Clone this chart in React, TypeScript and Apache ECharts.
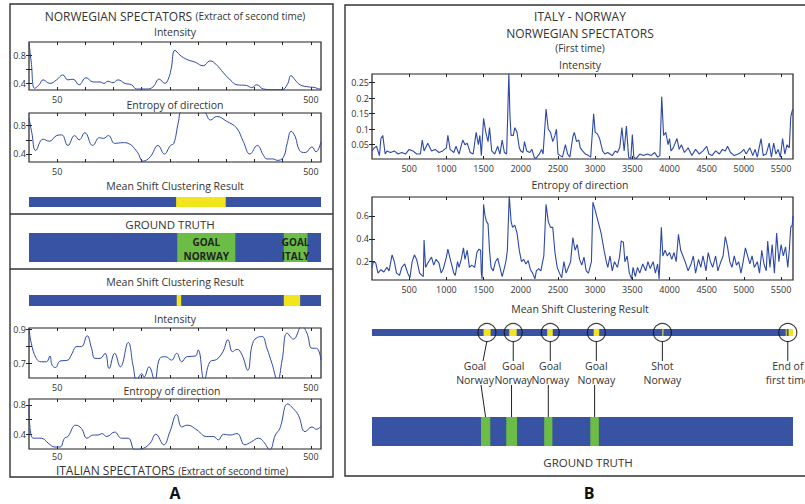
import React, { useEffect, useRef } from "react";
import * as echarts from "echarts";

// ---------- DATA ----------
// Panel A (x in frames 0..518)
const normIntensity = [[0,0.98],[4,0.7],[10,0.33],[18,0.38],[25,0.45],[37,0.40],[49,0.45],[60,0.52],[69,0.45],[78,0.46],[89,0.38],[101,0.48],[114,0.42],[126,0.42],[133,0.40],[140,0.43],[149,0.41],[158,0.45],[170,0.40],[182,0.38],[191,0.32],[209,0.32],[220,0.35],[231,0.46],[241,0.40],[247,0.46],[252,0.60],[259,0.87],[268,0.80],[280,0.74],[295,0.70],[309,0.65],[321,0.72],[333,0.66],[345,0.55],[357,0.45],[369,0.38],[386,0.37],[395,0.34],[404,0.38],[416,0.32],[434,0.31],[449,0.31],[458,0.38],[465,0.51],[472,0.45],[481,0.38],[496,0.35],[508,0.34],[514,0.32],[518,0.34]];
const normEntropy = [[0,0.91],[5,0.7],[12,0.45],[25,0.61],[36,0.58],[49,0.66],[58,0.67],[69,0.52],[81,0.66],[89,0.60],[99,0.70],[113,0.52],[125,0.63],[132,0.62],[141,0.66],[152,0.55],[167,0.56],[176,0.55],[191,0.44],[203,0.30],[215,0.36],[229,0.52],[240,0.40],[251,0.52],[257,0.55],[265,0.85],[271,1.0],[286,1.0],[309,1.0],[322,0.88],[333,0.93],[351,0.86],[368,0.77],[380,0.58],[392,0.40],[405,0.52],[416,0.38],[422,0.33],[434,0.33],[440,0.31],[451,0.35],[458,0.55],[465,0.72],[472,0.65],[480,0.45],[490,0.42],[502,0.50],[509,0.43],[518,0.57]];
const italIntensity = [[0,0.91],[4,0.82],[13,0.73],[22,0.71],[31,0.71],[37,0.744],[41,0.69],[47,0.676],[55,0.714],[69,0.72],[75,0.75],[85,0.80],[93,0.80],[103,0.864],[111,0.79],[117,0.73],[126,0.73],[135,0.76],[142,0.67],[152,0.76],[162,0.68],[176,0.824],[185,0.68],[191,0.6],[200,0.64],[204,0.62],[213,0.68],[223,0.6],[232,0.73],[242,0.74],[253,0.72],[262,0.76],[271,0.71],[280,0.74],[295,0.744],[300,0.78],[311,0.6],[321,0.71],[333,0.724],[344,0.77],[353,0.84],[361,0.77],[369,0.784],[378,0.75],[388,0.66],[398,0.83],[413,0.86],[422,0.79],[431,0.70],[441,0.6],[449,0.72],[458,0.88],[469,0.844],[484,0.92],[493,0.88],[502,0.79],[510,0.79],[518,0.72]];
const italEntropy = [[0,0.80],[7,0.347],[19,0.347],[25,0.34],[34,0.28],[46,0.227],[55,0.227],[63,0.347],[69,0.37],[83,0.524],[93,0.48],[103,0.347],[114,0.39],[123,0.39],[129,0.41],[138,0.37],[152,0.43],[164,0.347],[176,0.347],[188,0.19],[203,0.21],[215,0.28],[225,0.40],[239,0.258],[250,0.436],[262,0.667],[271,0.50],[281,0.524],[298,0.458],[315,0.37],[327,0.37],[336,0.324],[345,0.40],[357,0.39],[369,0.41],[383,0.258],[395,0.30],[407,0.347],[416,0.30],[427,0.19],[437,0.39],[445,0.48],[459,0.813],[469,0.747],[478,0.658],[490,0.436],[502,0.50],[510,0.467],[518,0.51]];

// segments: [start, end, colourCode] (0 blue, 1 yellow, 2 green)
const normMeanShift = [[0,518,0],[261,349,1]];
const groundTruthA = [[0,518,0],[263,366,2],[452,494,2]];
const italMeanShift = [[0,518,0],[262,270,1],[452,481,1]];

// Panel B (x in frames 0..5660)
const bIntensity = [[0,0.03],[30,0.04],[60,0.045],[100,0.015],[120,0.07],[145,0.08],[177,0.02],[200,0.03],[250,0.025],[300,0.03],[350,0.02],[400,0.025],[450,0.02],[500,0.035],[550,0.03],[600,0.02],[650,0.02],[676,0.065],[700,0.03],[750,0.055],[800,0.03],[850,0.035],[900,0.025],[950,0.03],[1000,0.04],[1020,0.08],[1050,0.035],[1100,0.025],[1130,0.045],[1170,0.02],[1220,0.065],[1250,0.05],[1280,0.055],[1320,0.025],[1360,0.02],[1400,0.09],[1430,0.05],[1450,0.08],[1470,0.015],[1500,0.135],[1530,0.09],[1560,0.06],[1580,0.105],[1610,0.03],[1650,0.02],[1690,0.045],[1720,0.02],[1750,0.065],[1780,0.025],[1810,0.02],[1840,0.28],[1855,0.14],[1870,0.08],[1900,0.08],[1920,0.105],[1950,0.09],[1980,0.04],[2000,0.03],[2030,0.025],[2050,0.06],[2080,0.03],[2120,0.025],[2150,0.035],[2180,0.01],[2200,0.005],[2250,0.02],[2280,0.035],[2300,0.02],[2340,0.165],[2370,0.10],[2400,0.09],[2430,0.06],[2460,0.08],[2480,0.10],[2500,0.02],[2530,0.015],[2560,0.01],[2600,0.05],[2630,0.02],[2660,0.01],[2700,0.075],[2720,0.09],[2750,0.06],[2780,0.065],[2800,0.04],[2830,0.03],[2870,0.02],[2910,0.015],[2940,0.01],[2980,0.15],[3000,0.09],[3030,0.085],[3060,0.07],[3100,0.03],[3130,0.02],[3170,0.025],[3200,0.02],[3230,0.015],[3270,0.03],[3300,0.025],[3330,0.04],[3360,0.105],[3390,0.03],[3420,0.11],[3450,0.01],[3480,0.005],[3500,0.083],[3520,0.01],[3550,0.005],[3600,0.02],[3650,0.015],[3700,0.02],[3750,0.015],[3800,0.025],[3840,0.01],[3870,0.015],[3895,0.205],[3920,0.08],[3950,0.09],[3980,0.05],[4000,0.07],[4020,0.03],[4050,0.04],[4100,0.07],[4130,0.035],[4160,0.05],[4200,0.025],[4250,0.04],[4300,0.015],[4350,0.035],[4400,0.02],[4450,0.03],[4500,0.045],[4530,0.02],[4570,0.015],[4620,0.03],[4670,0.02],[4710,0.035],[4750,0.03],[4780,0.045],[4820,0.025],[4870,0.015],[4920,0.02],[4960,0.025],[5000,0.035],[5030,0.02],[5080,0.04],[5120,0.015],[5150,0.035],[5180,0.01],[5230,0.07],[5260,0.015],[5300,0.02],[5340,0.055],[5370,0.01],[5400,0.055],[5430,0.02],[5460,0.035],[5490,0.01],[5520,0.07],[5550,0.02],[5580,0.05],[5610,0.04],[5630,0.14],[5650,0.16],[5660,0.165]];
const bEntropy = [[0,0.15],[20,0.2],[50,0.19],[80,0.1],[120,0.13],[160,0.11],[200,0.15],[230,0.12],[270,0.26],[300,0.2],[330,0.1],[370,0.08],[400,0.15],[440,0.18],[480,0.1],[510,0.06],[540,0.2],[570,0.26],[600,0.22],[640,0.1],[670,0.08],[690,0.07],[700,0.39],[720,0.15],[760,0.2],[800,0.24],[830,0.17],[860,0.22],[900,0.19],[930,0.1],[960,0.14],[1000,0.24],[1020,0.31],[1060,0.2],[1100,0.1],[1120,0.08],[1150,0.2],[1170,0.15],[1200,0.22],[1230,0.32],[1250,0.22],[1280,0.3],[1310,0.15],[1340,0.17],[1380,0.15],[1410,0.28],[1440,0.31],[1460,0.3],[1470,0.1],[1480,0.05],[1500,0.7],[1520,0.6],[1540,0.55],[1560,0.53],[1580,0.3],[1600,0.15],[1630,0.12],[1660,0.2],[1690,0.23],[1720,0.15],[1750,0.07],[1770,0.12],[1800,0.2],[1820,0.3],[1845,0.78],[1870,0.55],[1890,0.5],[1920,0.52],[1950,0.45],[1980,0.3],[2010,0.2],[2040,0.22],[2070,0.18],[2100,0.21],[2130,0.13],[2160,0.1],[2190,0.05],[2210,0.12],[2240,0.14],[2270,0.12],[2310,0.25],[2340,0.7],[2370,0.55],[2400,0.5],[2430,0.5],[2460,0.28],[2490,0.15],[2520,0.1],[2550,0.06],[2580,0.2],[2610,0.1],[2640,0.15],[2670,0.2],[2700,0.41],[2730,0.3],[2760,0.35],[2790,0.22],[2820,0.17],[2850,0.24],[2880,0.12],[2910,0.1],[2950,0.2],[2970,0.72],[3000,0.65],[3040,0.55],[3080,0.45],[3120,0.3],[3150,0.2],[3170,0.15],[3200,0.25],[3230,0.12],[3260,0.2],[3300,0.15],[3330,0.25],[3350,0.38],[3380,0.37],[3400,0.2],[3430,0.25],[3460,0.1],[3490,0.05],[3510,0.15],[3540,0.07],[3570,0.15],[3600,0.1],[3640,0.18],[3680,0.12],[3710,0.2],[3740,0.14],[3780,0.2],[3810,0.1],[3840,0.18],[3860,0.05],[3890,0.5],[3910,0.25],[3940,0.3],[3970,0.25],[4000,0.28],[4030,0.22],[4060,0.28],[4090,0.2],[4120,0.44],[4150,0.3],[4180,0.25],[4210,0.2],[4250,0.12],[4290,0.18],[4320,0.25],[4350,0.1],[4390,0.22],[4420,0.15],[4450,0.25],[4490,0.12],[4520,0.28],[4550,0.2],[4580,0.15],[4620,0.25],[4650,0.12],[4690,0.2],[4720,0.25],[4750,0.42],[4780,0.33],[4810,0.2],[4840,0.15],[4870,0.25],[4900,0.17],[4930,0.2],[4960,0.1],[4990,0.2],[5020,0.32],[5050,0.25],[5080,0.18],[5110,0.25],[5140,0.15],[5180,0.2],[5210,0.1],[5240,0.3],[5270,0.18],[5300,0.12],[5320,0.38],[5350,0.15],[5380,0.35],[5410,0.1],[5440,0.45],[5470,0.2],[5500,0.35],[5530,0.25],[5560,0.33],[5590,0.15],[5610,0.3],[5630,0.5],[5650,0.52],[5660,0.6]];
const bMeanShift = [[0,5660,0],[1500,1595,1],[1845,1945,1],[2355,2430,1],[2980,3055,1],[3903,3918,1],[5562,5570,1],[5600,5660,1]];
const bGroundTruth = [[0,5660,0],[1465,1590,2],[1805,1950,2],[2315,2425,2],[2935,3050,2]];

// annotated events
const eventX = [1545, 1899, 2397, 3016, 3904, 5590];
const eventLabelX = [1385, 1899, 2397, 3016, 3904, 5590];
const eventLabels = ["Goal\nNorway", "Goal\nNorway", "Goal\nNorway", "Goal\nNorway", "Shot\nNorway", "End of\nfirst time"];
const goalTruthX = [1527, 1876, 2370, 2993];

// ticks
const aXTicks = [50, 100, 150, 200, 250, 300, 350, 400, 450, 500];
const aXLabels = [50, 500];
const bXTicks = [500, 1000, 1500, 2000, 2500, 3000, 3500, 4000, 4500, 5000, 5500];

// ---------- STYLE ----------
const FONT = "'Open Sans', sans-serif";
const LINE = "#2d48a6";
const SEG = ["#3953a4", "#f2e51d", "#6cbd45"];
const TXT = "#333";

const A_L = 29, A_W = 292, A_MAX = 518;
const B_L = 372, B_W = 421, B_MAX = 5660;
const ax = (u: number) => A_L + (u / A_MAX) * A_W;
const bx = (u: number) => B_L + (u / B_MAX) * B_W;

type PlotDef = { left: number; top: number; width: number; height: number; xMax: number; yMin: number; yMax: number; xTicks: number[]; xLabels: number[]; yTicks: number[]; yLabels: number[]; data: number[][]; smooth: boolean; xMargin: number };

const plots: PlotDef[] = [
  { left: A_L, top: 42, width: A_W, height: 48, xMax: A_MAX, yMin: 0.306, yMax: 0.988, xTicks: aXTicks, xLabels: aXLabels, yTicks: [0.4, 0.6, 0.8], yLabels: [0.4, 0.8], data: normIntensity, smooth: true, xMargin: 4 },
  { left: A_L, top: 113, width: A_W, height: 49, xMax: A_MAX, yMin: 0.287, yMax: 0.979, xTicks: aXTicks, xLabels: aXLabels, yTicks: [0.4, 0.6, 0.8], yLabels: [0.4, 0.8], data: normEntropy, smooth: true, xMargin: 4 },
  { left: A_L, top: 328, width: A_W, height: 50, xMax: A_MAX, yMin: 0.614, yMax: 0.91, xTicks: aXTicks, xLabels: aXLabels, yTicks: [0.7, 0.8, 0.9], yLabels: [0.7, 0.9], data: italIntensity, smooth: true, xMargin: 4 },
  { left: A_L, top: 399, width: A_W, height: 50, xMax: A_MAX, yMin: 0.2, yMax: 0.88, xTicks: aXTicks, xLabels: aXLabels, yTicks: [0.4, 0.6, 0.8], yLabels: [0.4, 0.8], data: italEntropy, smooth: true, xMargin: 2 },
  { left: B_L, top: 74, width: B_W, height: 85, xMax: B_MAX, yMin: 0.004, yMax: 0.278, xTicks: bXTicks, xLabels: bXTicks, yTicks: [0.05, 0.1, 0.15, 0.2, 0.25], yLabels: [0.05, 0.1, 0.15, 0.2, 0.25], data: bIntensity, smooth: false, xMargin: 4 },
  { left: B_L, top: 197, width: B_W, height: 83, xMax: B_MAX, yMin: 0.04, yMax: 0.765, xTicks: bXTicks, xLabels: bXTicks, yTicks: [0.2, 0.4, 0.6], yLabels: [0.2, 0.4, 0.6], data: bEntropy, smooth: false, xMargin: 4 },
];

type BarDef = { left: number; top: number; width: number; height: number; xMax: number; data: number[][] };
const bars: BarDef[] = [
  { left: A_L, top: 197, width: A_W, height: 10, xMax: A_MAX, data: normMeanShift },
  { left: A_L, top: 233, width: A_W, height: 29, xMax: A_MAX, data: groundTruthA },
  { left: A_L, top: 295, width: A_W, height: 11, xMax: A_MAX, data: italMeanShift },
  { left: B_L, top: 329, width: B_W, height: 7, xMax: B_MAX, data: bMeanShift },
  { left: B_L, top: 417, width: B_W, height: 29, xMax: B_MAX, data: bGroundTruth },
];

function buildOption() {
  const grid: any[] = [];
  const xAxis: any[] = [];
  const yAxis: any[] = [];
  const series: any[] = [];
  const tick = { inside: true, length: 3, lineStyle: { color: "#222", width: 1 } };
  const lbl = { fontSize: 9, lineHeight: 10, color: TXT, fontFamily: FONT, formatter: (v: number) => String(v) };

  plots.forEach((p, i) => {
    grid.push({ left: p.left, top: p.top, width: p.width, height: p.height, show: true, borderColor: "#222", borderWidth: 1.2, backgroundColor: "#fff" });
    xAxis.push({ gridIndex: i, type: "value", min: 0, max: p.xMax, position: "bottom", axisLine: { show: false }, splitLine: { show: false }, axisTick: { ...tick, customValues: p.xTicks }, axisLabel: { ...lbl, margin: p.xMargin, customValues: p.xLabels } });
    xAxis.push({ gridIndex: i, type: "value", min: 0, max: p.xMax, position: "top", axisLine: { show: false }, splitLine: { show: false }, axisTick: { ...tick, customValues: p.xTicks }, axisLabel: { show: false } });
    yAxis.push({ gridIndex: i, type: "value", min: p.yMin, max: p.yMax, position: "left", axisLine: { show: false }, splitLine: { show: false }, axisTick: { ...tick, customValues: p.yTicks }, axisLabel: { ...lbl, margin: 3, customValues: p.yLabels } });
    yAxis.push({ gridIndex: i, type: "value", min: p.yMin, max: p.yMax, position: "right", axisLine: { show: false }, splitLine: { show: false }, axisTick: { ...tick, customValues: p.yTicks }, axisLabel: { show: false } });
    series.push({ type: "line", xAxisIndex: 2 * i, yAxisIndex: 2 * i, data: p.data, showSymbol: false, smooth: p.smooth ? 0.45 : false, silent: true, lineStyle: { color: LINE, width: p.smooth ? 1 : 1.1 }, z: 3 });
  });

  bars.forEach((b, j) => {
    const gi = plots.length + j;
    const ai = 2 * plots.length + j;
    grid.push({ left: b.left, top: b.top, width: b.width, height: b.height, show: false });
    xAxis.push({ gridIndex: gi, type: "value", min: 0, max: b.xMax, show: false });
    yAxis.push({ gridIndex: gi, type: "value", min: 0, max: 1, show: false });
    series.push({
      type: "custom", xAxisIndex: ai, yAxisIndex: ai, data: b.data, silent: true, clip: false,
      encode: { x: [0, 1] },
      renderItem: (_params: any, api: any) => {
        const p0 = api.coord([api.value(0), 0]);
        const p1 = api.coord([api.value(1), 1]);
        return { type: "rect", shape: { x: p0[0], y: p1[1], width: Math.max(1, p1[0] - p0[0]), height: p0[1] - p1[1] }, style: { fill: SEG[api.value(2)] } };
      },
    });
  });

  // circles around detected events (B mean-shift bar)
  const bMsAxis = 2 * plots.length + 3;
  series.push({ type: "scatter", xAxisIndex: bMsAxis, yAxisIndex: bMsAxis, data: eventX.map((u) => [u, 0.5]), symbol: "circle", symbolSize: 18, silent: true, itemStyle: { color: "rgba(0,0,0,0)", borderColor: "#111", borderWidth: 1.2 }, z: 5 });

  const t = (text: string, x: number, y: number, size: number, extra: any = {}) => ({
    type: "text", x, y, silent: true, z: 100,
    style: { text, fill: TXT, font: `${extra.weight || "normal"} ${size}px ${FONT}`, textAlign: "center", textVerticalAlign: "middle", lineHeight: extra.lineHeight, ...extra.style },
  });

  const richTitle = { a: { fontSize: 12, lineHeight: 12, fontFamily: FONT, fill: TXT, color: TXT }, b: { fontSize: 10, lineHeight: 12, fontFamily: FONT, fill: TXT, color: TXT } };

  const graphic: any[] = [
    { type: "rect", shape: { x: 10, y: 4, width: 323, height: 473 }, style: { fill: "none", stroke: "#333", lineWidth: 1.4 }, silent: true },
    { type: "rect", shape: { x: 345, y: 5, width: 470, height: 471 }, style: { fill: "none", stroke: "#333", lineWidth: 1.4 }, silent: true },
    { type: "line", shape: { x1: 10, y1: 214, x2: 333, y2: 214 }, style: { stroke: "#333", lineWidth: 1.4 }, silent: true },
    { type: "line", shape: { x1: 10, y1: 269, x2: 333, y2: 269 }, style: { stroke: "#333", lineWidth: 1.4 }, silent: true },
    {
      type: "text", x: 175, y: 16, silent: true, z: 100,
      style: { text: "{a|NORWEGIAN SPECTATORS} {b|(Extract of second time)}", textAlign: "center", textVerticalAlign: "middle", rich: richTitle },
    },
    t("Intensity", 175, 32, 10.5),
    t("Entropy of direction", 175, 105, 10.5),
    t("Mean Shift Clustering Result", 175, 186, 10.5),
    t("GROUND TRUTH", 170, 224, 11.5),
    t("GOAL\nNORWAY", ax((263 + 366) / 2), 249, 10, { weight: "bold", lineHeight: 14, style: { fill: "#222" } }),
    t("GOAL\nITALY", ax(473), 249, 10, { weight: "bold", lineHeight: 14, style: { fill: "#222" } }),
    t("Mean Shift Clustering Result", 175, 282, 10.5),
    t("Intensity", 175, 319, 10.5),
    t("Entropy of direction", 172, 391, 10.5),
    {
      type: "text", x: 172, y: 470.5, silent: true, z: 100,
      style: { text: "{a|ITALIAN SPECTATORS} {b|(Extract of second time)}", textAlign: "center", textVerticalAlign: "middle", rich: richTitle },
    },
    t("A", 175, 493, 16, { weight: "bold", style: { fill: "#111" } }),
    t("ITALY - NORWAY", 580, 16, 12),
    t("NORWEGIAN SPECTATORS", 580, 33, 12),
    t("(First time)", 580, 48, 10),
    t("Intensity", 580, 65, 10.5),
    t("Entropy of direction", 580, 185, 10.5),
    t("Mean Shift Clustering Result", 580, 309, 10.5),
    t("GROUND TRUTH", 588, 462, 11.5),
    t("B", 589, 493, 16, { weight: "bold", style: { fill: "#111" } }),
  ];

  eventX.forEach((u, k) => {
    const cx = bx(u);
    const lx = bx(eventLabelX[k]);
    const topEnd = cx === lx ? cx : lx + 8;
    graphic.push({ type: "line", silent: true, z: 50, shape: { x1: cx, y1: 341, x2: topEnd, y2: 361 }, style: { stroke: "#222", lineWidth: 1 } });
    graphic.push(t(eventLabels[k], lx, 373, 10.5, { lineHeight: 14 }));
    if (k < goalTruthX.length) {
      const gx = bx(goalTruthX[k]);
      const startX = cx === lx ? gx : lx + 6;
      graphic.push({ type: "line", silent: true, z: 50, shape: { x1: startX, y1: 385, x2: gx, y2: 417 }, style: { stroke: "#222", lineWidth: 1 } });
    }
  });

  return { animation: false, backgroundColor: "#fff", textStyle: { fontFamily: FONT }, grid, xAxis, yAxis, series, graphic };
}

export default function App() {
  const ref = useRef<HTMLDivElement>(null);
  useEffect(() => {
    if (!ref.current) return;
    const chart = echarts.init(ref.current, undefined, { renderer: "svg" });
    chart.setOption(buildOption() as any);
    return () => chart.dispose();
  }, []);
  return <div ref={ref} style={{ position: "fixed", left: 0, top: 0, width: 805, height: 504, background: "#fff" }} />;
}
